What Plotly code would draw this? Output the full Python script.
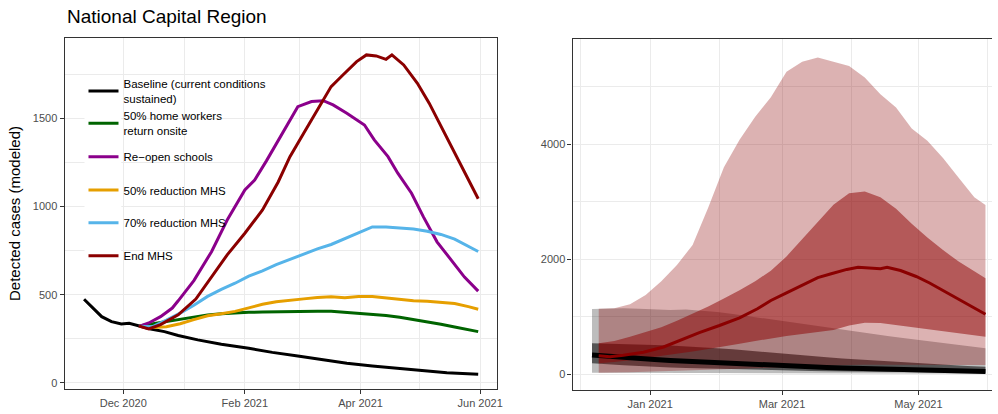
import plotly.graph_objects as go

# ---------------- data: left panel (scenario trajectories) ----------------
base_dates = ["2020-11-11", "2020-11-15", "2020-11-20", "2020-11-25", "2020-11-30", "2020-12-04",
              "2020-12-09", "2020-12-15", "2020-12-22", "2020-12-29", "2021-01-08", "2021-01-20",
              "2021-02-03", "2021-02-15", "2021-02-28", "2021-03-12", "2021-03-25", "2021-04-07",
              "2021-04-20", "2021-05-03", "2021-05-15", "2021-05-31"]
baseline = [474, 432, 375, 347, 333, 337, 322, 305, 290, 268, 243, 218,
            195, 172, 152, 130, 110, 95, 82, 68, 57, 48]

scen_dates = ["2020-12-09", "2020-12-16", "2020-12-23", "2020-12-30", "2021-01-06", "2021-01-13",
              "2021-01-20", "2021-01-27", "2021-02-03", "2021-02-10", "2021-02-17", "2021-02-24",
              "2021-03-03", "2021-03-10", "2021-03-17", "2021-03-24", "2021-03-31", "2021-04-07",
              "2021-04-14", "2021-04-21", "2021-04-28", "2021-05-05", "2021-05-12", "2021-05-19",
              "2021-05-26", "2021-05-31"]
home_workers = [322, 335, 348, 362, 373, 385, 392, 397, 400, 401, 403, 404, 404, 406, 405, 400,
                396, 389, 382, 372, 360, 348, 332, 316, 302, 290]
red50 = [320, 313, 318, 335, 358, 380, 392, 405, 425, 445, 460, 470, 476, 484, 488, 482,
         490, 490, 482, 472, 465, 462, 458, 450, 432, 417]
red70 = [320, 318, 355, 395, 440, 490, 530, 565, 605, 635, 670, 700, 730, 760, 785, 818,
         855, 885, 885, 880, 873, 860, 842, 815, 775, 745]

school_dates = ["2020-12-09", "2020-12-14", "2020-12-20", "2020-12-26", "2020-12-29", "2021-01-06",
                "2021-01-15", "2021-01-23", "2021-02-01", "2021-02-06", "2021-02-12", "2021-02-18",
                "2021-02-23", "2021-02-28", "2021-03-07", "2021-03-13", "2021-03-18", "2021-03-25",
                "2021-04-03", "2021-04-08", "2021-04-15", "2021-04-20", "2021-04-27", "2021-05-03",
                "2021-05-10", "2021-05-17", "2021-05-24", "2021-05-31"]
reopen_schools = [320, 339, 375, 424, 465, 580, 744, 924, 1095, 1151, 1260, 1378, 1474, 1568,
                  1597, 1602, 1578, 1531, 1464, 1379, 1284, 1190, 1076, 943, 800, 700, 600, 520]

endmhs_dates = ["2020-12-09", "2020-12-14", "2020-12-20", "2020-12-26", "2020-12-29", "2021-01-07",
                "2021-01-15", "2021-01-23", "2021-02-01", "2021-02-10", "2021-02-18", "2021-02-24",
                "2021-03-03", "2021-03-10", "2021-03-17", "2021-03-23", "2021-03-30", "2021-04-04",
                "2021-04-09", "2021-04-14", "2021-04-17", "2021-04-23", "2021-04-30", "2021-05-06",
                "2021-05-13", "2021-05-22", "2021-05-31"]
end_mhs = [322, 305, 330, 365, 385, 475, 600, 726, 849, 981, 1140, 1284, 1417, 1549, 1682, 1748,
           1824, 1862, 1856, 1837, 1862, 1805, 1701, 1588, 1436, 1247, 1045]

series_names = ["Baseline (current conditions<br>sustained)", "50% home workers<br>return onsite",
                "Re\u2212open schools", "50% reduction MHS", "70% reduction MHS", "End MHS"]
series_colors = ["#000000", "#006400", "#8B008B", "#E69F00", "#56B4E9", "#8B0000"]

# ---------------- data: right panel (uncertainty bands) ----------------
band_dates_base = ["2020-12-06", "2020-12-13", "2020-12-20", "2020-12-27", "2021-01-03", "2021-01-10",
                   "2021-01-17", "2021-01-24", "2021-01-31", "2021-02-07", "2021-02-14", "2021-02-21",
                   "2021-02-28", "2021-03-07", "2021-03-14", "2021-03-21", "2021-03-28", "2021-04-04",
                   "2021-04-11", "2021-04-18", "2021-04-25", "2021-05-02", "2021-05-09", "2021-05-16",
                   "2021-05-23", "2021-05-31"]
base_med = [336, 312, 294, 276, 258, 240, 226, 212, 200, 188, 176, 164, 153, 142, 131, 120,
            108, 100, 92, 84, 77, 70, 64, 58, 53, 47]
base_hi95 = [1136, 1145, 1150, 1140, 1125, 1120, 1125, 1110, 1085, 1050, 1010, 970, 930, 890,
             850, 810, 770, 730, 695, 660, 625, 590, 555, 520, 490, 452]
base_lo95 = [28, 27, 26, 25, 24, 23, 22, 21, 20, 19, 18, 17, 16, 15, 14, 13, 12, 12, 11, 11,
             10, 10, 9, 9, 8, 8]
base_hi50 = [539, 535, 528, 520, 510, 500, 488, 475, 455, 435, 410, 385, 360, 336, 315, 295,
             275, 258, 240, 224, 208, 192, 176, 160, 146, 132]
base_lo50 = [191, 175, 158, 143, 130, 120, 110, 101, 93, 86, 79, 72, 67, 63, 58, 53, 49, 45,
             41, 38, 35, 32, 29, 27, 25, 23]

band_dates_end = scen_dates
end_hi95 = [1140, 1150, 1220, 1380, 1620, 1900, 2250, 2900, 3600, 4080, 4480, 4820, 5260, 5435,
            5510, 5440, 5360, 5160, 4870, 4640, 4275, 4060, 3760, 3420, 3080, 2944]
end_lo95 = [28, 30, 35, 40, 48, 56, 65, 75, 85, 95, 105, 115, 125, 135, 145, 155, 162, 168,
            172, 172, 170, 168, 166, 164, 162, 160]
end_hi50 = [539, 580, 654, 740, 820, 930, 1050, 1180, 1320, 1460, 1620, 1800, 2050, 2350, 2650,
            2950, 3150, 3180, 3080, 2880, 2620, 2380, 2160, 1960, 1790, 1670]
end_lo50 = [191, 215, 245, 280, 315, 355, 395, 440, 480, 530, 580, 625, 665, 700, 730, 770,
            850, 895, 890, 860, 820, 785, 750, 715, 680, 654]

# ---------------- geometry (pixels -> paper) ----------------
W, H = 998, 414
def px(x):
    return x / W
def py(y):
    return (H - y) / H

fig = go.Figure()

left_series = [(base_dates, baseline), (scen_dates, home_workers), (school_dates, reopen_schools),
               (scen_dates, red50), (scen_dates, red70), (endmhs_dates, end_mhs)]
legend_ids = ["legend", "legend2", "legend3", "legend4", "legend5", "legend6"]
for (xs, ys), name, col, lg in zip(left_series, series_names, series_colors, legend_ids):
    fig.add_trace(go.Scatter(x=xs, y=ys, mode="lines", name=name, legend=lg,
                             line=dict(color=col, width=3), xaxis="x", yaxis="y"))

def band(xs, lo, hi, color):
    return go.Scatter(x=list(xs) + list(xs)[::-1], y=list(hi) + list(lo)[::-1],
                      fill="toself", fillcolor=color, line=dict(width=0), mode="lines",
                      showlegend=False, hoverinfo="skip", xaxis="x2", yaxis="y2")

fig.add_trace(band(band_dates_base, base_lo95, base_hi95, "rgba(0,0,0,0.26)"))
fig.add_trace(band(band_dates_base, base_lo50, base_hi50, "rgba(0,0,0,0.55)"))
fig.add_trace(band(band_dates_end, end_lo95, end_hi95, "rgba(139,0,0,0.30)"))
fig.add_trace(band(band_dates_end, end_lo50, end_hi50, "rgba(139,0,0,0.50)"))
fig.add_trace(go.Scatter(x=band_dates_base, y=base_med, mode="lines", showlegend=False,
                         line=dict(color="#000000", width=5), xaxis="x2", yaxis="y2"))
fig.add_trace(go.Scatter(x=endmhs_dates, y=end_mhs, mode="lines", showlegend=False,
                         line=dict(color="#8B0000", width=3), xaxis="x2", yaxis="y2"))

axis_common = dict(showline=True, linecolor="#333333", linewidth=1.1, ticks="outside",
                   ticklen=4, tickcolor="#333333", tickwidth=1.1, showgrid=True,
                   gridcolor="#ebebeb", gridwidth=1.3, zeroline=False,
                   tickfont=dict(family="Liberation Sans, Arial", size=11, color="#4d4d4d"))

fig.update_layout(
    width=W, height=H, margin=dict(l=0, r=0, t=0, b=0),
    paper_bgcolor="white", plot_bgcolor="white",
    font=dict(family="Liberation Sans, Arial", color="#000000"),
    xaxis=dict(domain=[px(65), px(500)], type="date",
               range=["2020-11-01 02:00", "2021-06-09 14:00"],
               tickvals=["2020-12-01", "2021-02-01", "2021-04-01", "2021-06-01"],
               ticktext=["Dec 2020", "Feb 2021", "Apr 2021", "Jun 2021"],
               minor=dict(tickvals=["2021-01-01", "2021-03-01", "2021-05-01"], showgrid=True,
                          gridcolor="#ebebeb", gridwidth=0.9, ticks=""),
               mirror=True, anchor="y", **axis_common),
    yaxis=dict(domain=[py(389), py(38)], range=[-36, 1958],
               tickvals=[0, 500, 1000, 1500],
               minor=dict(tickvals=[250, 750, 1250, 1750], showgrid=True,
                          gridcolor="#ebebeb", gridwidth=0.9, ticks=""),
               title=dict(text="Detected cases (modeled)", standoff=8,
                          font=dict(family="Liberation Sans, Arial", size=15, color="#000000")),
               mirror=True, anchor="x", **axis_common),
    xaxis2=dict(domain=[px(576), 1.0], type="date",
                range=["2020-11-27 07:00", "2021-06-02 22:00"],
                tickvals=["2021-01-01", "2021-03-01", "2021-05-01"],
                ticktext=["Jan 2021", "Mar 2021", "May 2021"],
                minor=dict(tickvals=["2020-12-01", "2021-02-01", "2021-04-01", "2021-06-01"],
                           showgrid=True, gridcolor="#ebebeb", gridwidth=0.9, ticks=""),
                mirror=True, anchor="y2", **axis_common),
    yaxis2=dict(domain=[py(390), py(39)], range=[-273, 5831],
                tickvals=[0, 2000, 4000],
                minor=dict(tickvals=[1000, 3000, 5000], showgrid=True,
                           gridcolor="#ebebeb", gridwidth=0.9, ticks=""),
                mirror=False, anchor="x2", **axis_common),
    annotations=[dict(text="National Capital Region", x=px(65), y=py(17), xref="paper",
                      yref="paper", xanchor="left", yanchor="middle", showarrow=False,
                      font=dict(family="Liberation Sans, Arial", size=19, color="#000000"))],
    shapes=[dict(type="rect", xref="paper", yref="paper", x0=px(85), x1=px(122),
                 y0=py(272), y1=py(76), fillcolor="white", line=dict(width=0),
                 layer="above")],
)

key_rows = [91, 123.3, 156.7, 190, 222.7, 255.7]
for lg, yrow in zip(legend_ids, key_rows):
    fig.update_layout({lg: dict(x=px(84), y=py(yrow), xanchor="left", yanchor="middle",
                                bgcolor="rgba(0,0,0,0)", borderwidth=0,
                                font=dict(family="Liberation Sans, Arial", size=11.5,
                                          color="#000000"))})

fig.write_html("out.html")
